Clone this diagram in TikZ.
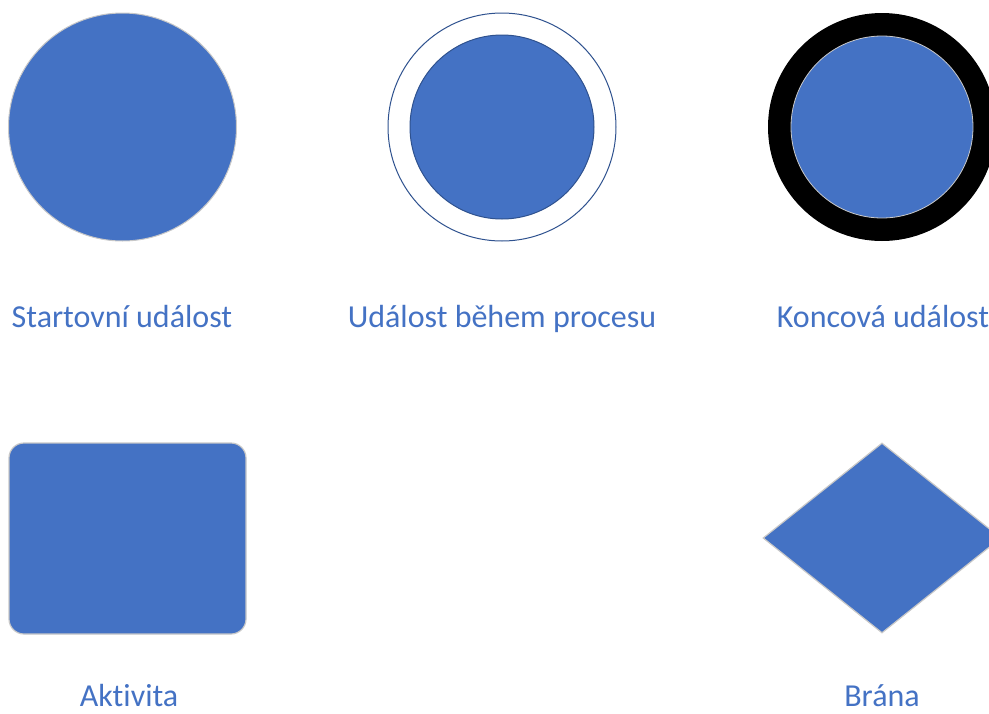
\documentclass[tikz,border=0pt]{standalone}
\usepackage{fontspec}
\setmainfont{Carlito}[Ligatures=NoCommon]
\usepackage{xcolor}
\usetikzlibrary{positioning,shapes.geometric}

\definecolor{bpmnblue}{HTML}{4472C4}
\definecolor{bpmnnavy}{HTML}{2F528F}
\definecolor{edgegray}{HTML}{C8C8C8}

\begin{document}
\begin{tikzpicture}[x=1pt, y=-1pt,
  evt/.style={circle, inner sep=0pt, minimum size=#1},
  caption/.style={anchor=base, text=bpmnblue, font=\fontsize{32}{38}\selectfont}
]
  \useasboundingbox (0,0) rectangle (989,713);

  % events
  \node[evt=228pt, fill=bpmnblue, draw=edgegray, line width=1pt] (start) at (122.5,127) {};

  \node[evt=228pt, fill=white, draw=bpmnnavy, line width=1pt] (midring) at (502,127) {};
  \node[evt=184pt, fill=bpmnblue, draw=bpmnnavy, line width=1pt] (midcore) at (midring.center) {};

  \node[evt=228pt, fill=black] (endring) at (882,127) {};
  \node[evt=182pt, fill=bpmnblue, draw=edgegray, line width=0.8pt] (endcore) at (endring.center) {};

  \node[caption] (startlbl) at (122,327) {Startovní událost};
  \node[caption] (midlbl) at (502,327) {Událost během procesu};
  \node[caption] (endlbl) at (883,327) {Koncová událost};

  % activity and gateway
  \node[rectangle, rounded corners=15pt, minimum width=237pt, minimum height=191pt,
    fill=bpmnblue, draw=edgegray, line width=1.2pt] (task) at (127.5,538.5) {};
  \node[diamond, inner sep=0pt, minimum width=238pt, minimum height=190pt,
    fill=bpmnblue, draw=edgegray, line width=1.2pt] (gate) at (882,538) {};

  \node[caption] (tasklbl) at (129,706) {Aktivita};
  \node[caption] (gatelbl) at (882,706) {Brána};
\end{tikzpicture}
\end{document}
